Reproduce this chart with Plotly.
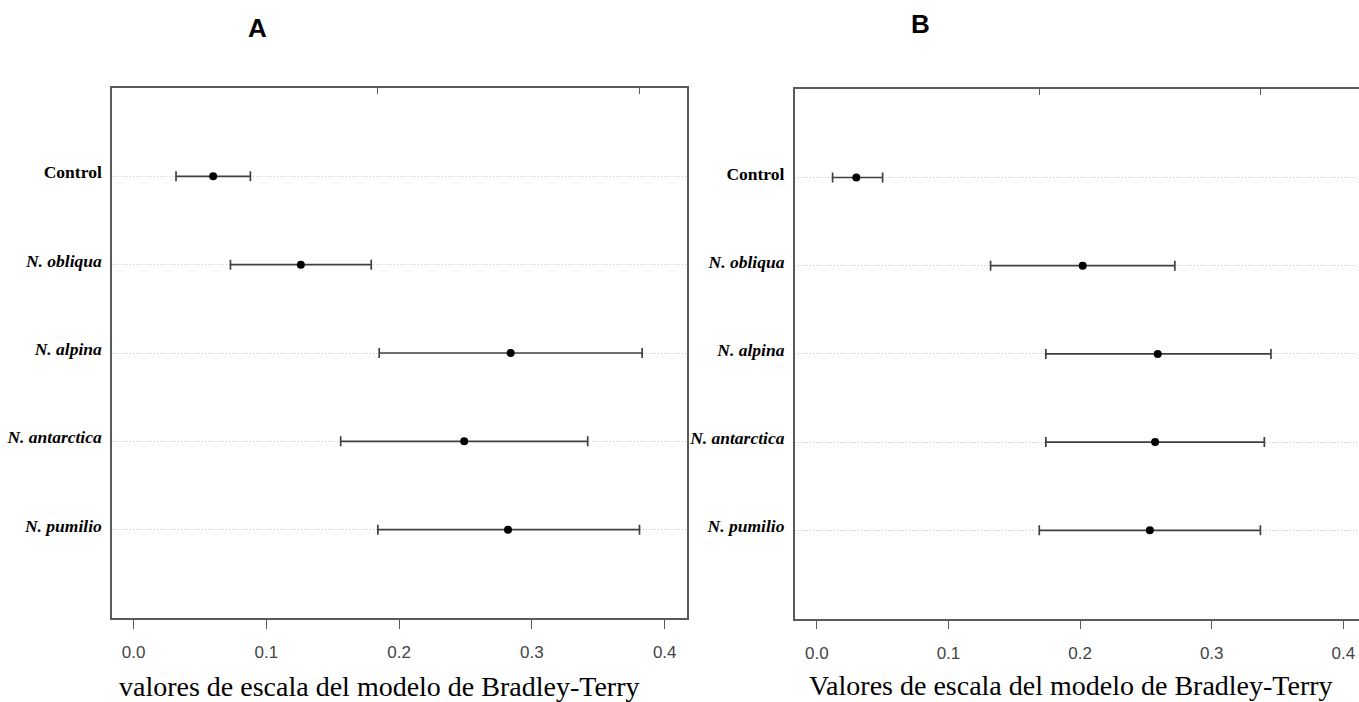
import plotly.graph_objects as go

# ---- data ----
species = ["Control", "N. obliqua", "N. alpina", "N. antarctica", "N. pumilio"]
tick_text = ["<b>Control</b>", "<b><i>N. obliqua</i></b>", "<b><i>N. alpina</i></b>",
             "<b><i>N. antarctica</i></b>", "<b><i>N. pumilio</i></b>"]
row_pos = [5, 4, 3, 2, 1]

est_a = [0.060, 0.126, 0.284, 0.249, 0.282]
lo_a = [0.032, 0.073, 0.185, 0.156, 0.184]
hi_a = [0.088, 0.179, 0.383, 0.342, 0.381]

est_b = [0.030, 0.202, 0.259, 0.257, 0.253]
lo_b = [0.012, 0.132, 0.174, 0.174, 0.169]
hi_b = [0.050, 0.272, 0.345, 0.340, 0.337]

x_ticks = [0.0, 0.1, 0.2, 0.3, 0.4]
x_tick_text = ["0.0", "0.1", "0.2", "0.3", "0.4"]

title_a = "valores de escala del modelo de Bradley-Terry"
title_b = "Valores de escala del modelo de Bradley-Terry"

W, H = 1359, 702
FRAME = "#5a5a5a"
SERIF = "Liberation Serif, Times New Roman, serif"
SANS = "Liberation Sans, Arial, sans-serif"


def px_x(p):
    return p / W


def px_y(p):
    return 1 - p / H


fig = go.Figure()


def add_panel(est, lo, hi, xa, ya):
    fig.add_trace(go.Scatter(
        x=est, y=row_pos, mode="markers",
        marker=dict(color="black", size=8),
        error_x=dict(type="data", symmetric=False,
                     array=[h - e for h, e in zip(hi, est)],
                     arrayminus=[e - l for e, l in zip(est, lo)],
                     color="#404040", thickness=1.7, width=5),
        xaxis=xa, yaxis=ya, showlegend=False, hoverinfo="x+y",
    ))


add_panel(est_a, lo_a, hi_a, "x", "y")
add_panel(est_b, lo_b, hi_b, "x2", "y2")

# invisible traces carrying the top-side tick axes
fig.add_trace(go.Scatter(x=[lo_a[-1], hi_a[-1]], y=[row_pos[-1]] * 2, mode="markers",
                         marker=dict(opacity=0), xaxis="x3", yaxis="y",
                         showlegend=False, hoverinfo="skip"))
fig.add_trace(go.Scatter(x=[lo_b[-1], hi_b[-1]], y=[row_pos[-1]] * 2, mode="markers",
                         marker=dict(opacity=0), xaxis="x4", yaxis="y2",
                         showlegend=False, hoverinfo="skip"))

dom_xa = [px_x(112), px_x(686.5)]
dom_ya = [px_y(618), px_y(88)]
dom_xb = [px_x(794.7), 1.0]
dom_yb = [px_y(618.5), px_y(89.3)]

range_a = [-0.0162, 0.4164]
range_b = [-0.0168, 0.4119]

xcommon = dict(
    tickvals=x_ticks, ticktext=x_tick_text,
    ticks="outside", ticklen=9, tickwidth=1.3, tickcolor=FRAME,
    tickfont=dict(family=SANS, size=17, color="#444444"),
    ticklabelstandoff=9,
    showline=True, linecolor=FRAME, linewidth=1.5, mirror=True,
    showgrid=False, zeroline=False, fixedrange=True,
)
ycommon = dict(
    range=[0, 6], tickvals=row_pos, ticktext=tick_text,
    ticks="", tickfont=dict(family=SERIF, size=17.5, color="black"),
    ticklabelstandoff=5, ticklabelshift=-4,
    showgrid=True, gridcolor="#c4c4c4", griddash="1px,2px", gridwidth=1,
    zeroline=False, fixedrange=True,
)
topcommon = dict(
    side="top", ticks="inside", ticklen=6, tickwidth=1.3, tickcolor=FRAME,
    showticklabels=False, showline=False, showgrid=False, zeroline=False,
    fixedrange=True,
)

fig.update_layout(
    width=W, height=H,
    margin=dict(l=0, r=0, t=0, b=0),
    paper_bgcolor="white", plot_bgcolor="white",
    xaxis=dict(domain=dom_xa, range=range_a, anchor="y", **xcommon),
    yaxis=dict(domain=dom_ya, anchor="x", showline=True, linecolor=FRAME,
               linewidth=1.5, mirror=True, **ycommon),
    xaxis2=dict(domain=dom_xb, range=range_b, anchor="y2", **xcommon),
    yaxis2=dict(domain=dom_yb, anchor="x2", showline=True, linecolor=FRAME,
                linewidth=1.5, mirror=False, **ycommon),
    xaxis3=dict(overlaying="x", anchor="y", range=range_a,
                tickvals=[lo_a[-1], hi_a[-1]], **topcommon),
    xaxis4=dict(overlaying="x2", anchor="y2", range=range_b,
                tickvals=[lo_b[-1], hi_b[-1]], **topcommon),
    annotations=[
        dict(text=title_a, xref="paper", yref="paper", x=px_x(379), y=px_y(686),
             xanchor="center", yanchor="middle", showarrow=False,
             font=dict(family=SERIF, size=28, color="black")),
        dict(text=title_b, xref="paper", yref="paper", x=px_x(1071), y=px_y(685),
             xanchor="center", yanchor="middle", showarrow=False,
             font=dict(family=SERIF, size=28, color="black")),
        dict(text="<b>A</b>", xref="paper", yref="paper", x=px_x(257), y=px_y(28),
             xanchor="center", yanchor="middle", showarrow=False,
             font=dict(family=SANS, size=26, color="black")),
        dict(text="<b>B</b>", xref="paper", yref="paper", x=px_x(920), y=px_y(23.5),
             xanchor="center", yanchor="middle", showarrow=False,
             font=dict(family=SANS, size=26, color="black")),
    ],
)

fig.write_html(
    "out.html",
    config={"displayModeBar": False},
    post_script="document.body.style.margin='0';document.body.style.overflow='hidden';",
)
